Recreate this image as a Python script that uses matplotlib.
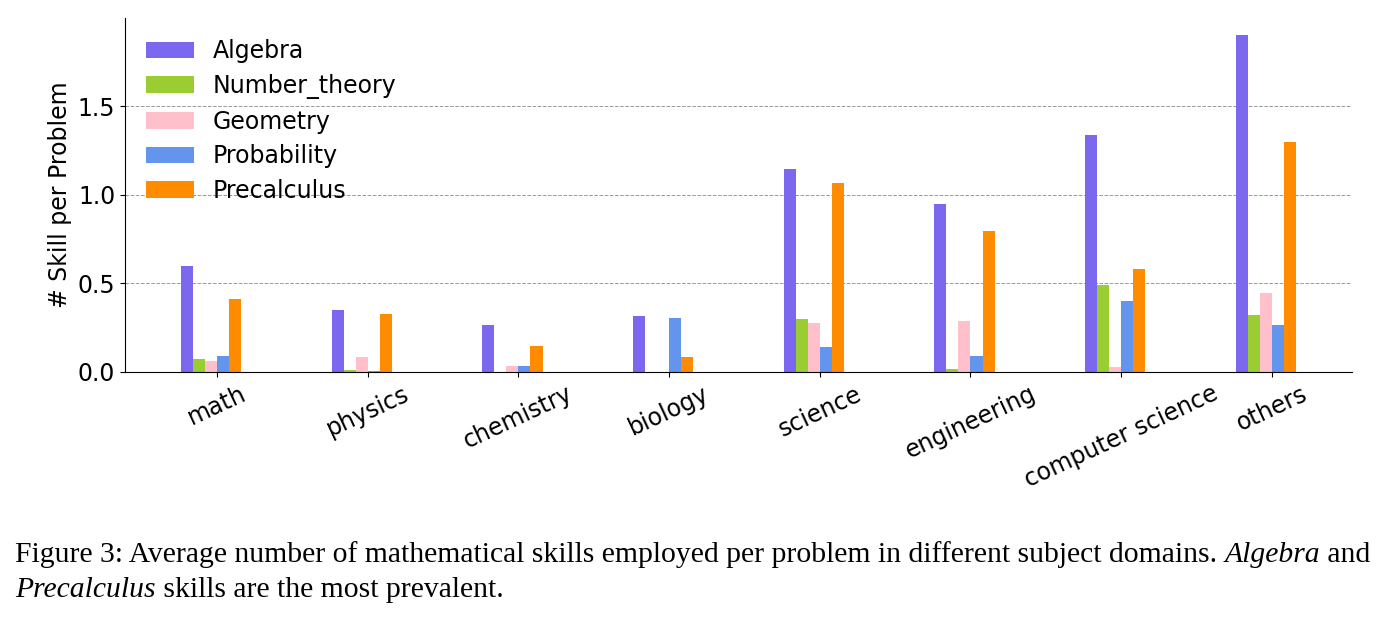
import numpy as np
import matplotlib.pyplot as plt

categories = ["math", "physics", "chemistry", "biology", "science",
              "engineering", "computer science", "others"]
skills = ["Algebra", "Number_theory", "Geometry", "Probability", "Precalculus"]

algebra = [0.60, 0.348, 0.265, 0.315, 1.145, 0.949, 1.341, 1.904]
number_theory = [0.073, 0.010, 0.0, 0.0, 0.299, 0.015, 0.490, 0.320]
geometry = [0.062, 0.085, 0.036, 0.0, 0.277, 0.286, 0.028, 0.446]
probability = [0.092, 0.004, 0.036, 0.305, 0.141, 0.089, 0.400, 0.267]
precalculus = [0.412, 0.328, 0.145, 0.085, 1.070, 0.795, 0.582, 1.300]

colors = ["mediumslateblue", "yellowgreen", "pink", "cornflowerblue", "darkorange"]
series = [algebra, number_theory, geometry, probability, precalculus]

fig = plt.figure(figsize=(13.85, 6.22), dpi=100)
ax = fig.add_axes([0.0903, 0.402, 0.8857, 0.569])

x = np.arange(len(categories))
w = 0.08
for i, (vals, name, c) in enumerate(zip(series, skills, colors)):
    ax.bar(x + (i - 2.5) * w, vals, width=w, color=c, label=name, zorder=2)

ax.set_xticks(x)
ax.set_xticklabels(categories, rotation=25, fontsize=17)
ax.set_yticks([0, 0.5, 1.0, 1.5])
ax.tick_params(axis="y", labelsize=17)
ax.set_ylim(0, 1.999)
ax.set_ylabel("# Skill per Problem", fontsize=17)
ax.yaxis.grid(True, linestyle="--", color="gray", linewidth=0.7, alpha=0.8)
ax.set_axisbelow(True)
ax.spines["top"].set_visible(False)
ax.spines["right"].set_visible(False)
ax.legend(loc="upper left", frameon=False, fontsize=17, handlelength=2.0,
          labelspacing=0.45, bbox_to_anchor=(0.0, 1.0))

# caption with italic words, placed piece by piece
fig.canvas.draw()
renderer = fig.canvas.get_renderer()
inv = fig.transFigure.inverted()


def put_line(parts, x0, y0):
    xc = x0
    for txt, style in parts:
        t = fig.text(xc, y0, txt, fontsize=21.3, family="Liberation Serif",
                     style=style, va="baseline", ha="left")
        bb = t.get_window_extent(renderer)
        xc = inv.transform((bb.x1, bb.y1))[0]


put_line([("Figure 3: Average number of mathematical skills employed per problem "
           "in different subject domains. ", "normal"),
          ("Algebra", "italic"), (" and", "normal")], 0.011, 1 - 562 / 622)
put_line([("Precalculus", "italic"),
          (" skills are the most prevalent.", "normal")], 0.011, 1 - 597 / 622)

fig.savefig("out.png", dpi=100)
